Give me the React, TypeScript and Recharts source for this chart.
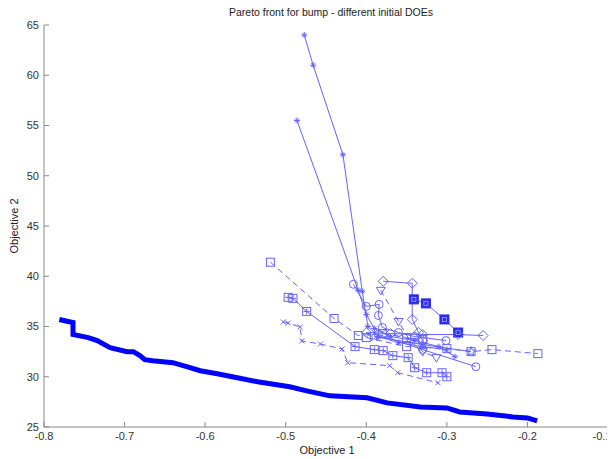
import React from 'react';
import { ComposedChart, Line, XAxis, YAxis } from 'recharts';

type P = { x: number; y: number };
const pts = (a: number[][]): P[] => a.map(([x, y]) => ({ x, y }));

const xTicks = [-0.8, -0.7, -0.6, -0.5, -0.4, -0.3, -0.2, -0.1];
const yTicks = [25, 30, 35, 40, 45, 50, 55, 60, 65];

const front = pts([
  [-0.781, 35.7], [-0.77, 35.5], [-0.764, 35.4], [-0.764, 34.2], [-0.745, 33.9], [-0.734, 33.6],
  [-0.718, 32.9], [-0.697, 32.5], [-0.689, 32.5], [-0.681, 32.1], [-0.675, 31.7], [-0.665, 31.6],
  [-0.64, 31.4], [-0.623, 31.0], [-0.606, 30.6], [-0.585, 30.3], [-0.56, 29.9], [-0.535, 29.5],
  [-0.503, 29.1], [-0.495, 29.0], [-0.474, 28.6], [-0.445, 28.1], [-0.399, 27.9], [-0.374, 27.4],
  [-0.333, 27.0], [-0.3, 26.9], [-0.284, 26.5], [-0.25, 26.3], [-0.218, 26.0], [-0.2, 25.9], [-0.188, 25.6],
]);

const sA = pts([[-0.477, 64.0], [-0.466, 61.0], [-0.429, 52.1], [-0.405, 38.5], [-0.398, 35.0], [-0.385, 34.0], [-0.36, 33.4], [-0.33, 33.0], [-0.3, 32.7]]);
const sB = pts([[-0.486, 55.5], [-0.41, 38.6], [-0.4, 36.2], [-0.39, 34.8], [-0.37, 34.0], [-0.34, 33.6], [-0.31, 33.0], [-0.29, 32.0]]);
const sC = pts([[-0.519, 41.4], [-0.44, 35.8], [-0.41, 34.1], [-0.38, 34.3], [-0.35, 33.9], [-0.33, 33.7]]);
const sD = pts([[-0.497, 37.9], [-0.491, 37.8], [-0.474, 36.5], [-0.414, 33.0], [-0.39, 32.7], [-0.379, 32.6], [-0.367, 32.1], [-0.348, 31.9], [-0.34, 30.9], [-0.325, 30.4], [-0.306, 30.4], [-0.3, 30.0]]);
const sE = pts([[-0.503, 35.45], [-0.497, 35.35], [-0.482, 34.95], [-0.48, 33.56], [-0.457, 33.26], [-0.43, 32.76], [-0.423, 31.4], [-0.371, 31.1], [-0.361, 30.4], [-0.311, 29.4]]);
const sF = pts([[-0.379, 39.5], [-0.343, 39.3], [-0.343, 35.7], [-0.335, 34.4], [-0.33, 33.6]]);
const sG = pts([[-0.341, 37.7], [-0.326, 37.3], [-0.303, 35.7], [-0.286, 34.4]]);
const sH = pts([[-0.4, 34.4], [-0.37, 34.3], [-0.33, 34.2], [-0.286, 34.2], [-0.255, 34.1]]);
const sI = pts([[-0.416, 39.2], [-0.4, 37.0], [-0.384, 37.2], [-0.385, 36.1], [-0.38, 34.9], [-0.36, 34.4], [-0.34, 34.0], [-0.301, 33.6]]);
const sJ = pts([[-0.382, 38.6], [-0.36, 35.5], [-0.345, 33.5], [-0.33, 32.5], [-0.313, 31.9]]);
const sK = pts([[-0.4, 33.9], [-0.35, 33.0], [-0.3, 32.8], [-0.27, 32.5], [-0.244, 32.7], [-0.187, 32.3]]);
const sL = pts([[-0.39, 34.0], [-0.33, 33.2], [-0.27, 32.5]]);
const sM = pts([[-0.385, 34.2], [-0.33, 32.7], [-0.264, 31.0]]);

const C = '#6464ff';

function Marker({ m, x, y }: { m: string; x: number; y: number }) {
  const s = { stroke: C, strokeWidth: 1, fill: 'none' };
  switch (m) {
    case 'square':
      return <rect x={x - 4} y={y - 4} width={8} height={8} {...s} />;
    case 'sqplus':
      return (
        <g {...s}>
          <rect x={x - 4} y={y - 4} width={8} height={8} />
          <path d={`M${x - 3},${y}H${x + 3}M${x},${y - 3}V${y + 3}`} />
        </g>
      );
    case 'fsq':
      return (
        <g>
          <rect x={x - 4.5} y={y - 4.5} width={9} height={9} fill="#2a2af0" stroke="#2a2af0" />
          <rect x={x - 2} y={y - 2} width={4} height={4} fill="none" stroke="#9090ff" />
        </g>
      );
    case 'diamond':
      return <path d={`M${x},${y - 5}L${x + 5},${y}L${x},${y + 5}L${x - 5},${y}Z`} {...s} />;
    case 'circle':
      return <circle cx={x} cy={y} r={4} {...s} />;
    case 'tri':
      return <path d={`M${x - 4.5},${y - 3}L${x + 4.5},${y - 3}L${x},${y + 4.5}Z`} {...s} />;
    case 'star':
      return <path d={`M${x - 3},${y}H${x + 3}M${x},${y - 3}V${y + 3}M${x - 2},${y - 2}L${x + 2},${y + 2}M${x - 2},${y + 2}L${x + 2},${y - 2}`} {...s} />;
    case 'x':
      return <path d={`M${x - 2.5},${y - 2.5}L${x + 2.5},${y + 2.5}M${x - 2.5},${y + 2.5}L${x + 2.5},${y - 2.5}`} {...s} />;
    case 'pent': {
      const r1 = 5, r2 = 2;
      let d = '';
      for (let i = 0; i < 10; i++) {
        const r = i % 2 === 0 ? r1 : r2;
        const a = -Math.PI / 2 + (i * Math.PI) / 5;
        d += `${i === 0 ? 'M' : 'L'}${x + r * Math.cos(a)},${y + r * Math.sin(a)}`;
      }
      return <path d={d + 'Z'} {...s} />;
    }
    default:
      return null;
  }
}

const dot = (m: string) => (props: any) => {
  const { cx, cy, index } = props;
  if (cx == null || cy == null) return <g key={`${m}-${index}`} />;
  return (
    <g key={`${m}-${index}`}>
      <Marker m={m} x={cx} y={cy} />
    </g>
  );
};

const series: { d: P[]; m: string; dash?: boolean }[] = [
  { d: sA, m: 'star' },
  { d: sB, m: 'star' },
  { d: sC, m: 'square', dash: true },
  { d: sD, m: 'sqplus' },
  { d: sE, m: 'x', dash: true },
  { d: sF, m: 'diamond' },
  { d: sG, m: 'fsq' },
  { d: sH, m: 'diamond' },
  { d: sI, m: 'circle' },
  { d: sJ, m: 'tri', dash: true },
  { d: sK, m: 'square', dash: true },
  { d: sL, m: 'pent' },
  { d: sM, m: 'circle' },
];

const font = '"Liberation Sans", Arial, sans-serif';
const tickStyle = { fontSize: 11, fill: '#333', fontFamily: font };
const axisLine = { stroke: '#888' };

const XTick = (props: any) => {
  const { x, y, payload } = props;
  const v: number = payload.value;
  const last = v === xTicks[xTicks.length - 1];
  return (
    <text x={x - (last ? 6 : 0)} y={y} dy="0.71em" textAnchor="middle" fontSize={11} fill="#333" fontFamily={font}>
      {v.toFixed(1)}
    </text>
  );
};

export default function App() {
  return (
    <div style={{ position: 'relative', width: 607, height: 451, background: '#fff' }}>
      <style>{'.recharts-surface{overflow:visible}'}</style>
      <ComposedChart width={607} height={451} margin={{ top: 17, right: 7, bottom: 12, left: 6 }}>
        <XAxis
          xAxisId={0}
          type="number"
          dataKey="x"
          domain={[-0.8, -0.1]}
          ticks={xTicks}
          interval={0}
          allowDataOverflow
          tickSize={-5}
          tickMargin={10}
          height={20}
          tick={<XTick />}
          axisLine={axisLine}
          tickLine={axisLine}
        />
        <XAxis
          xAxisId="top"
          orientation="top"
          type="number"
          dataKey="x"
          domain={[-0.8, -0.1]}
          ticks={xTicks}
          interval={0}
          allowDataOverflow
          tick={false}
          tickSize={-5}
          height={0}
          axisLine={axisLine}
          tickLine={axisLine}
        />
        <YAxis
          yAxisId={0}
          type="number"
          domain={[25, 65]}
          ticks={yTicks}
          interval={0}
          allowDataOverflow
          tickSize={-5}
          tickMargin={10}
          width={30}
          tick={tickStyle}
          axisLine={axisLine}
          tickLine={axisLine}
        />
        <YAxis
          yAxisId="right"
          orientation="right"
          type="number"
          domain={[25, 65]}
          ticks={yTicks}
          interval={0}
          allowDataOverflow
          tick={false}
          tickSize={-5}
          width={0}
          axisLine={axisLine}
          tickLine={axisLine}
        />
        {series.map((s, i) => (
          <Line
            key={i}
            data={s.d}
            dataKey="y"
            type="linear"
            stroke={C}
            strokeWidth={1}
            strokeDasharray={s.dash ? '6 4' : undefined}
            dot={dot(s.m)}
            activeDot={false}
            isAnimationActive={false}
            legendType="none"
          />
        ))}
        <Line
          data={front}
          dataKey="y"
          type="linear"
          stroke="#0000ff"
          strokeWidth={5}
          dot={false}
          activeDot={false}
          isAnimationActive={false}
        />
      </ComposedChart>
      <svg width={607} height={459} style={{ position: 'absolute', left: 0, top: -8, pointerEvents: 'none' }}>
        <text x={323} y={16} textAnchor="middle" fontSize={10.5} fill="#222" fontFamily={font}>
          Pareto front for bump - different initial DOEs
        </text>
        <text x={319} y={454} textAnchor="middle" fontSize={11} fill="#222" fontFamily={font}>
          Objective 1
        </text>
        <text x={0} y={0} transform="translate(10,226) rotate(-90)" textAnchor="middle" fontSize={11} fill="#222" fontFamily={font}>
          Objective 2
        </text>
      </svg>
    </div>
  );
}
